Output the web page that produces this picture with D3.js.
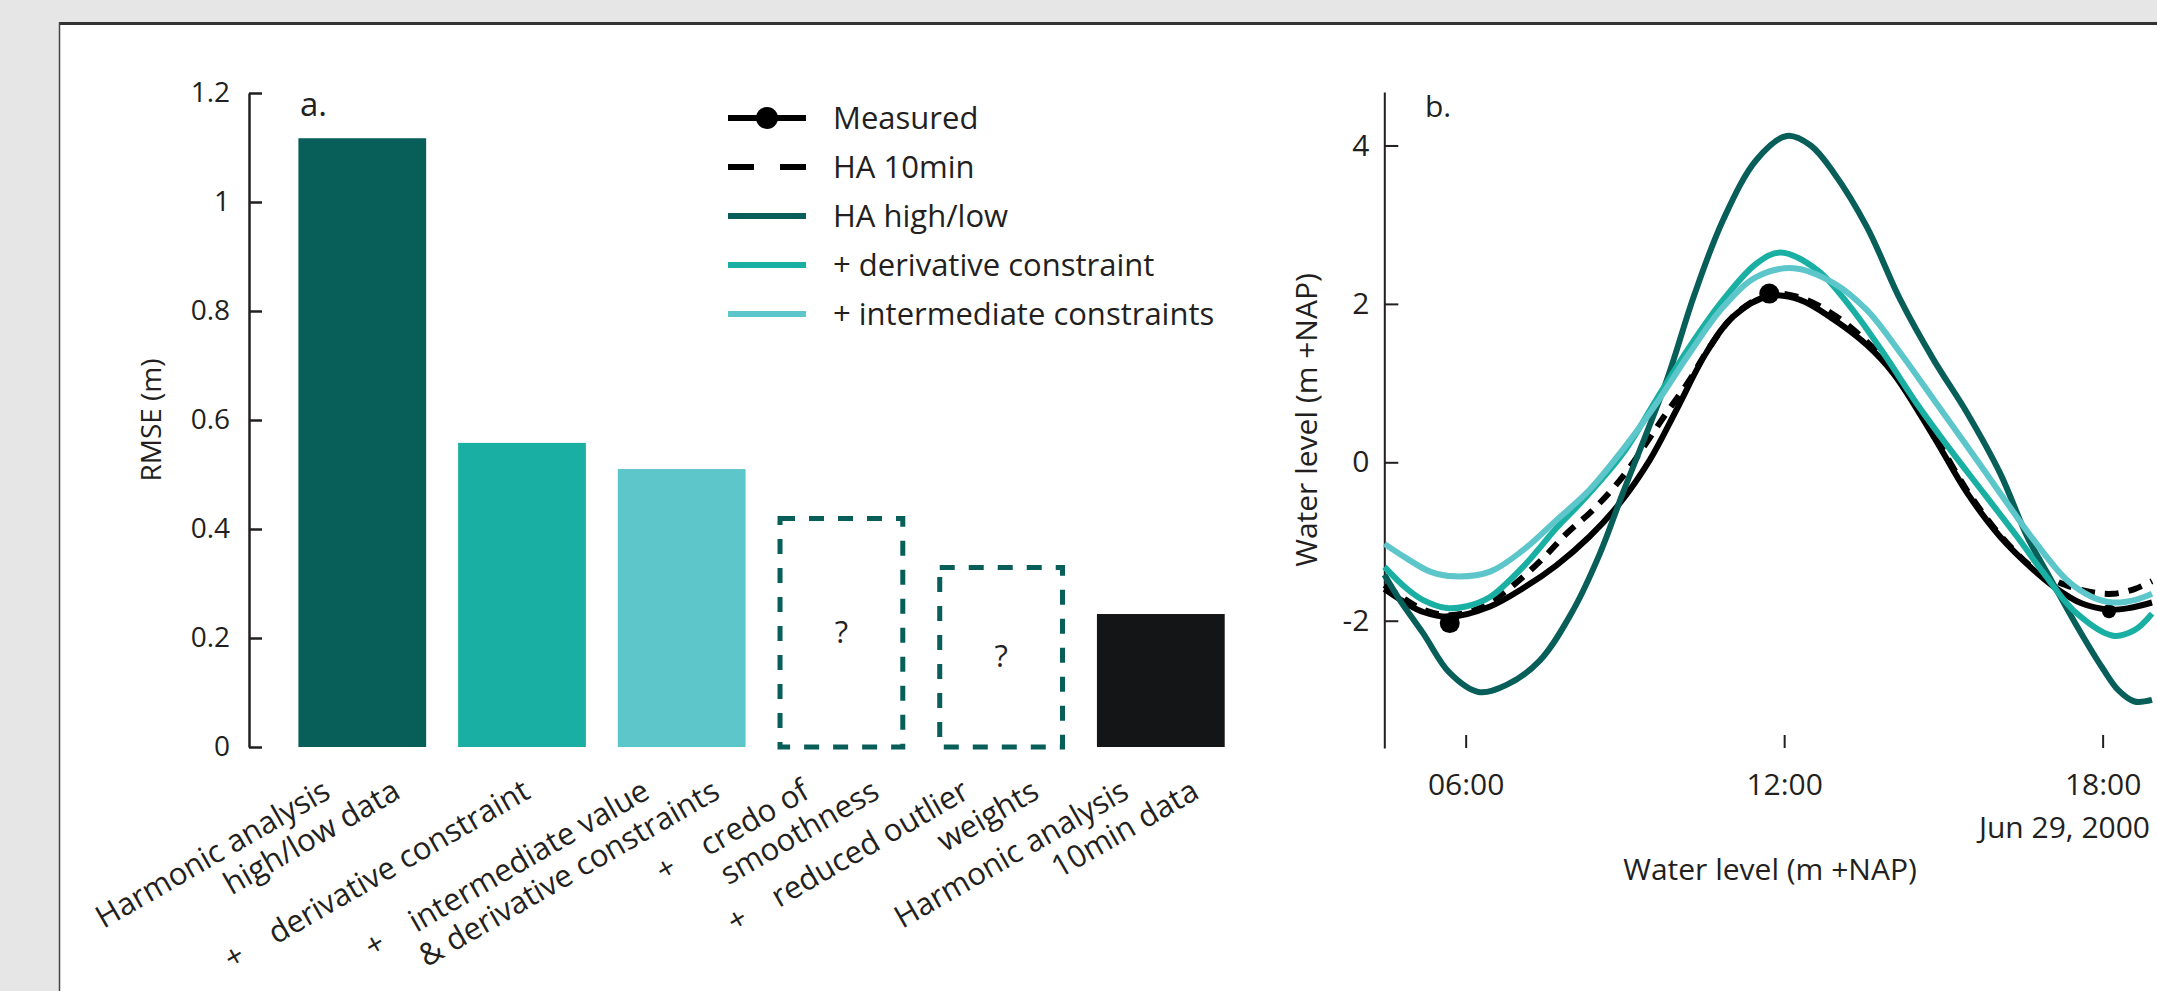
<!DOCTYPE html>
<html><head><meta charset="utf-8">
<script src="https://cdn.jsdelivr.net/npm/d3@7"></script>
<style>
html,body{margin:0;padding:0;background:#e6e6e6;overflow:hidden;}
svg{display:block;}
text{font-family:"Open Sans",sans-serif;fill:#231f20;}
</style></head><body>
<svg id="chart" width="2157" height="991"></svg>
<script>
// ---------------- DATA ----------------
// Panel a: RMSE per method
const categories = [
  "Harmonic analysis\nhigh/low data",
  "+ derivative constraint",
  "+ intermediate value\n& derivative constraints",
  "+ credo of\nsmoothness",
  "+ reduced outlier\nweights",
  "Harmonic analysis\n10min data"
];
const rmseValues = [1.117, 0.558, 0.510, 0.424, 0.334, 0.244];
const isUnknown = [false, false, false, true, true, false];
const rmseTicks = [0, 0.2, 0.4, 0.6, 0.8, 1, 1.2];

// Panel b: water level series, [hour of Jun 29 2000, metres +NAP]
const measured = [[4.47,-1.60],[4.88,-1.78],[5.2,-1.89],[5.7,-1.95],[6.46,-1.82],[7.08,-1.59],[7.71,-1.30],[8.33,-0.94],[8.9,-0.52],[9.47,0.03],[9.97,0.66],[10.53,1.38],[11.04,1.84],[11.72,2.10],[12.3,2.05],[12.94,1.80],[13.56,1.48],[14.06,1.12],[14.82,0.32],[15.45,-0.39],[16.07,-0.94],[16.70,-1.36],[17.1,-1.58],[17.6,-1.78],[18.12,-1.86],[18.5,-1.84],[18.93,-1.77]];
const measuredExtremes = [[5.70,-2.03],[11.72,2.13],[18.12,-1.88]];
const ha10min = [[4.47,-1.55],[4.88,-1.74],[5.2,-1.86],[5.7,-1.93],[6.3,-1.83],[6.9,-1.55],[7.46,-1.21],[7.9,-0.90],[8.4,-0.60],[8.96,-0.18],[9.78,0.62],[10.22,1.04],[10.6,1.46],[11.1,1.88],[11.72,2.12],[12.3,2.08],[12.94,1.86],[13.56,1.52],[14.06,1.15],[14.82,0.35],[15.45,-0.36],[16.07,-0.92],[16.72,-1.35],[17.3,-1.55],[17.8,-1.64],[18.2,-1.66],[18.6,-1.60],[18.93,-1.50]];
const haHighLow = [[4.47,-1.42],[4.76,-1.74],[5.2,-2.16],[5.70,-2.66],[6.24,-2.90],[6.77,-2.81],[7.40,-2.50],[8.03,-1.86],[8.53,-1.15],[8.96,-0.39],[9.79,1.04],[10.3,2.10],[10.85,3.06],[11.48,3.82],[12.05,4.12],[12.5,4.00],[12.94,3.65],[13.56,2.97],[14.19,2.05],[14.82,1.29],[15.45,0.62],[16.07,-0.14],[16.58,-0.94],[17.0,-1.45],[17.5,-2.05],[18.0,-2.60],[18.3,-2.88],[18.6,-3.02],[18.93,-3.00]];
const derivConstraint = [[4.47,-1.32],[4.88,-1.59],[5.2,-1.74],[5.64,-1.84],[6.0,-1.82],[6.46,-1.70],[7.08,-1.32],[7.71,-0.83],[8.21,-0.48],[8.96,0.11],[9.59,0.79],[10.22,1.46],[10.85,2.05],[11.48,2.51],[11.93,2.65],[12.62,2.43],[13.25,1.96],[13.87,1.38],[14.5,0.74],[15.13,0.16],[15.76,-0.39],[16.39,-0.94],[16.89,-1.40],[17.5,-1.90],[18.2,-2.19],[18.6,-2.12],[18.93,-1.91]];
const interConstraints = [[4.47,-1.03],[4.88,-1.21],[5.33,-1.38],[5.80,-1.44],[6.46,-1.38],[7.08,-1.11],[7.71,-0.73],[8.33,-0.35],[8.96,0.16],[9.59,0.74],[10.22,1.38],[10.85,1.96],[11.48,2.34],[12.18,2.45],[12.94,2.26],[13.56,1.92],[14.19,1.38],[14.82,0.79],[15.45,0.20],[16.07,-0.39],[16.7,-0.98],[17.33,-1.49],[17.8,-1.70],[18.2,-1.77],[18.6,-1.74],[18.93,-1.66]];
const levelTicks = [-2, 0, 2, 4];
const timeTickHours = [6, 12, 18];
const legendLabels = ["Measured", "HA 10min", "HA high/low", "+ derivative constraint", "+ intermediate constraints"];

// ---------------- STYLE ----------------
const C_DARK = "#085e59", C_MID = "#19afa3", C_LIGHT = "#5cc6ca", C_BLACK = "#131517", C_TEXT = "#231f20";
const barColors = [C_DARK, C_MID, C_LIGHT, C_DARK, C_DARK, C_BLACK];
const markerRadii = [10, 10, 7];

const svg = d3.select("#chart");

// card
svg.append("rect").attr("x", 59).attr("y", 22).attr("width", 2200).attr("height", 1000).attr("fill", "#fff");
svg.append("line").attr("x1", 59).attr("x2", 2157).attr("y1", 23.5).attr("y2", 23.5).attr("stroke", "#333").attr("stroke-width", 3);
svg.append("line").attr("x1", 59.5).attr("x2", 59.5).attr("y1", 22).attr("y2", 991).attr("stroke", "#444").attr("stroke-width", 1.5);

// ================= PANEL A =================
const xA = d3.scaleBand().domain(categories).range([298.4, 1224.7]).paddingInner(0.2).paddingOuter(0);
const yA = d3.scaleLinear().domain([0, 1.2]).range([747, 93]);

const gA = svg.append("g");
const axA = gA.append("g").attr("transform", "translate(249,0)")
  .call(d3.axisLeft(yA).tickValues(rmseTicks).tickSizeInner(-13).tickSizeOuter(0).tickPadding(19)
    .tickFormat(d => String(+d.toFixed(1))));
axA.select(".domain").attr("stroke", C_TEXT).attr("stroke-width", 2.5);
axA.selectAll(".tick line").attr("stroke", C_TEXT).attr("stroke-width", 2.5);
axA.selectAll(".tick text").attr("font-size", 28).attr("font-family", "'Open Sans',sans-serif").attr("fill", C_TEXT);

gA.append("text").attr("transform", "translate(161,420) rotate(-90)").attr("text-anchor", "middle")
  .attr("font-size", 28).text("RMSE (m)");
gA.append("text").attr("x", 300).attr("y", 116).attr("font-size", 33).text("a.");

categories.forEach((c, i) => {
  const x0 = xA(c), w = xA.bandwidth(), y0 = yA(rmseValues[i]), h = yA(0) - y0;
  if (!isUnknown[i]) {
    gA.append("rect").attr("x", x0).attr("y", y0).attr("width", w).attr("height", h).attr("fill", barColors[i]);
  } else {
    gA.append("rect").attr("x", x0 + 2.5).attr("y", y0 + 2.5).attr("width", w - 5).attr("height", h - 2.5)
      .attr("fill", "none").attr("stroke", barColors[i]).attr("stroke-width", 5).attr("stroke-dasharray", "15,14");
    gA.append("text").attr("x", x0 + w / 2).attr("y", (y0 + yA(0)) / 2).attr("dy", "0.36em")
      .attr("text-anchor", "middle").attr("font-size", 31).text("?");
  }
  // rotated multi-line label
  const lines = c.split("\n"), n = lines.length, cx = x0 + w / 2;
  lines.forEach((ln, k) => {
    const xe = cx + 10 + k * 70 - (n - 1) * 40, ye = 797;
    const t = gA.append("text").attr("x", xe).attr("y", ye).attr("text-anchor", "end")
      .attr("font-size", 31).attr("transform", `rotate(-30,${xe},${ye})`);
    if (ln.startsWith("+ ")) {
      t.append("tspan").text("+");
      t.append("tspan").attr("dx", 33).text(ln.slice(2));
    } else t.text(ln);
  });
});

// legend
const legX0 = 728, legX1 = 806, legTextX = 833, legY0 = 118, legDY = 49;
const legStyles = [
  {color: "#000", dash: null, marker: true},
  {color: "#000", dash: "26,26", marker: false},
  {color: C_DARK, dash: null, marker: false},
  {color: C_MID, dash: null, marker: false},
  {color: C_LIGHT, dash: null, marker: false}
];
legendLabels.forEach((lab, i) => {
  const yy = legY0 + i * legDY, st = legStyles[i];
  svg.append("line").attr("x1", legX0).attr("x2", legX1).attr("y1", yy).attr("y2", yy)
    .attr("stroke", st.color).attr("stroke-width", 6).attr("stroke-dasharray", st.dash);
  if (st.marker) svg.append("circle").attr("cx", (legX0 + legX1) / 2).attr("cy", yy).attr("r", 11).attr("fill", "#000");
  svg.append("text").attr("x", legTextX).attr("y", yy).attr("dy", "0.36em").attr("font-size", 31).text(lab);
});

// ================= PANEL B =================
const day = new Date(2000, 5, 29);
const toDate = h => new Date(day.getTime() + h * 3600e3);
const xB = d3.scaleTime().domain([toDate(4.467), toDate(18.93)]).range([1384.3, 2152]);
const yB = d3.scaleLinear().domain([-3.607, 4.675]).range([748, 92]);
const gB = svg.append("g");

const axBy = gB.append("g").attr("transform", "translate(1384.3,0)")
  .call(d3.axisLeft(yB).tickValues(levelTicks).tickSizeInner(-14).tickSizeOuter(0).tickPadding(15).tickFormat(d => String(d)));
axBy.select(".domain").attr("stroke", C_TEXT).attr("stroke-width", 2);
axBy.selectAll(".tick line").attr("stroke", C_TEXT).attr("stroke-width", 2);
axBy.selectAll(".tick text").attr("font-size", 30).attr("font-family", "'Open Sans',sans-serif").attr("fill", C_TEXT);

const axBx = gB.append("g").attr("transform", "translate(0,748)")
  .call(d3.axisBottom(xB).tickValues(timeTickHours.map(toDate)).tickSizeInner(-13).tickSizeOuter(0).tickPadding(26)
    .tickFormat(d3.timeFormat("%H:%M")));
axBx.select(".domain").remove();
axBx.selectAll(".tick line").attr("stroke", C_TEXT).attr("stroke-width", 2);
axBx.selectAll(".tick text").attr("font-size", 30).attr("font-family", "'Open Sans',sans-serif").attr("fill", C_TEXT);

gB.append("text").attr("x", 2150).attr("y", 838).attr("text-anchor", "end").attr("font-size", 30).text("Jun 29, 2000");
gB.append("text").attr("x", 1770).attr("y", 880).attr("text-anchor", "middle").attr("font-size", 30).text("Water level (m +NAP)");
gB.append("text").attr("transform", "translate(1317,420) rotate(-90)").attr("text-anchor", "middle").attr("font-size", 30).text("Water level (m +NAP)");
gB.append("text").attr("x", 1425).attr("y", 117).attr("font-size", 30).text("b.");

const lineGen = d3.line().x(d => xB(toDate(d[0]))).y(d => yB(d[1])).curve(d3.curveCatmullRom.alpha(0.5));
const seriesDraw = [
  {data: measured, color: "#000", dash: null},
  {data: ha10min, color: "#000", dash: "14,10"},
  {data: haHighLow, color: C_DARK, dash: null},
  {data: derivConstraint, color: C_MID, dash: null},
  {data: interConstraints, color: C_LIGHT, dash: null}
];
seriesDraw.forEach((s, si) => {
  gB.append("path").attr("d", lineGen(s.data)).attr("fill", "none").attr("stroke", s.color)
    .attr("stroke-width", 6).attr("stroke-dasharray", s.dash);
  if (si === 0) {
    gB.selectAll("circle.m").data(measuredExtremes).enter().append("circle").attr("class", "m")
      .attr("cx", d => xB(toDate(d[0]))).attr("cy", d => yB(d[1])).attr("r", (d, j) => markerRadii[j]).attr("fill", "#000");
  }
});
</script>
</body></html>
